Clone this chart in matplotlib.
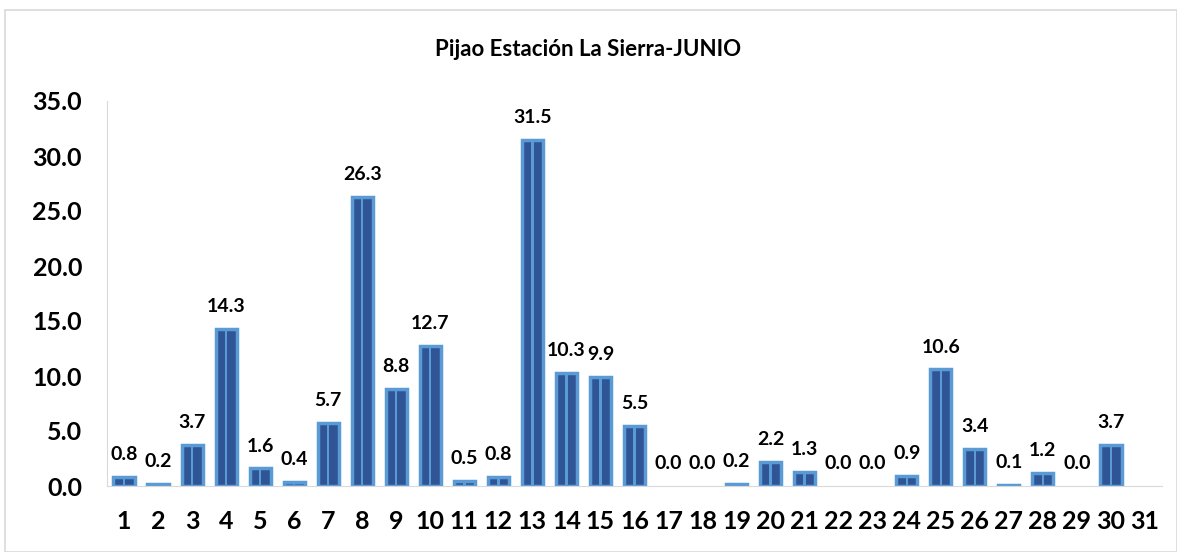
import numpy as np
import matplotlib
matplotlib.use("Agg")
import matplotlib.pyplot as plt
import matplotlib.patches as mpatches

TITLE = "Pijao Estación La Sierra-JUNIO"
days = list(range(1, 32))
rain = [0.8, 0.2, 3.7, 14.3, 1.6, 0.4, 5.7, 26.3, 8.8, 12.7,
        0.5, 0.8, 31.5, 10.3, 9.9, 5.5, 0.0, 0.0, 0.2, 2.2,
        1.3, 0.0, 0.0, 0.9, 10.6, 3.4, 0.1, 1.2, 0.0, 3.7]
yticks = [0, 5, 10, 15, 20, 25, 30, 35]

DARK = "#2F5597"
LIGHT = "#5B9BD5"
AXIS_GRAY = "#D9D9D9"

plt.rcParams['font.family'] = ['Lato', 'DejaVu Sans']

fig = plt.figure(figsize=(11.77, 5.52), dpi=100)
# chart border
fig.patches.append(mpatches.Rectangle((5 / 1177, 0), 1 - 5 / 1177, 1 - 10 / 552,
                                      transform=fig.transFigure, fill=False,
                                      edgecolor=AXIS_GRAY, lw=1.2))

ax = fig.add_axes([107 / 1177, (552 - 486) / 552, (1162 - 107) / 1177, (486 - 101) / 552])

x = np.array(days[:len(rain)])
vals = np.array(rain)
nz = vals > 0  # zero days show no bar, only the label
ax.bar(x[nz], vals[nz], width=0.62, color=DARK, edgecolor=LIGHT, linewidth=2.5, zorder=2)
ax.bar(x[nz], vals[nz], width=0.07, color=LIGHT, linewidth=0, zorder=3)

for xi, v in zip(x, rain):
    ax.annotate("{:.1f}".format(v), (xi, v), xytext=(0, 10), textcoords="offset points",
                ha="center", va="bottom", fontsize=14, fontweight="bold", color="#000000")

ax.set_xlim(0.5, 31.5)
ax.set_ylim(0, 35)
ax.set_xticks(days)
ax.set_xticklabels([str(d) for d in days], fontsize=18, fontweight="bold")
ax.set_yticks(yticks)
ax.set_yticklabels(["{:.1f}".format(t) for t in yticks], fontsize=18, fontweight="bold")
ax.tick_params(length=0)
ax.tick_params(axis="x", pad=17)
ax.tick_params(axis="y", pad=18)

for s in ["top", "right"]:
    ax.spines[s].set_visible(False)
ax.spines["left"].set_color(AXIS_GRAY)
ax.spines["bottom"].set_color(AXIS_GRAY)

fig.text(0.5, 1 - 50 / 552, TITLE, ha="center", va="center", fontsize=16, fontweight="bold")

fig.savefig("out.png", dpi=100)
